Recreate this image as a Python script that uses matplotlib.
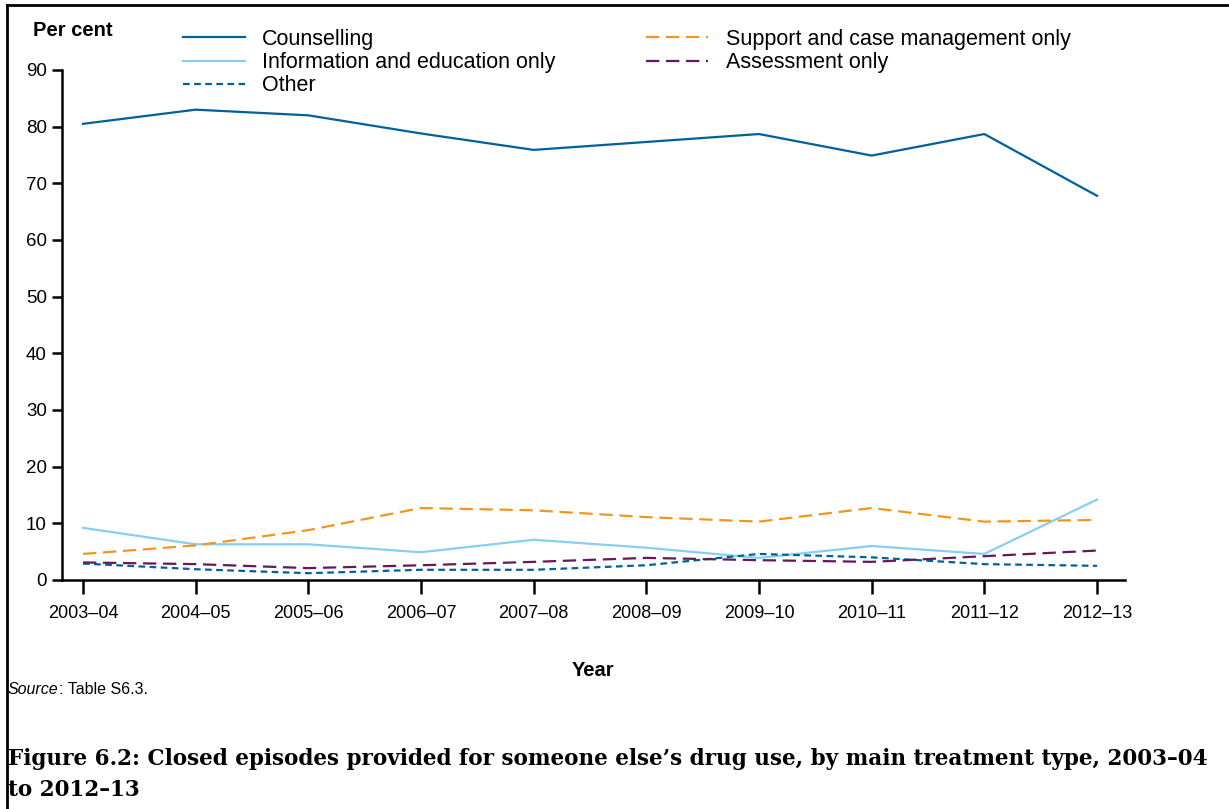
import matplotlib
matplotlib.use('Agg')
import matplotlib.pyplot as plt
from matplotlib.lines import Line2D

plt.rcParams['font.family'] = ['Liberation Sans', 'DejaVu Sans']

# Datos (por ciento)
anios = ['2003–04', '2004–05', '2005–06', '2006–07', '2007–08',
         '2008–09', '2009–10', '2010–11', '2011–12', '2012–13']
counselling = [80.5, 83.0, 82.0, 78.8, 75.9, 77.3, 78.7, 74.9, 78.7, 67.8]
informacion = [9.2, 6.3, 6.3, 4.9, 7.1, 5.7, 3.9, 6.0, 4.6, 14.2]
otro = [2.9, 1.9, 1.2, 1.8, 1.8, 2.6, 4.6, 4.0, 2.8, 2.5]
soporte = [4.6, 6.1, 8.8, 12.7, 12.3, 11.1, 10.3, 12.7, 10.3, 10.6]
evaluacion = [3.1, 2.8, 2.1, 2.6, 3.2, 3.9, 3.5, 3.2, 4.2, 5.2]

W, H = 1229, 809
fig = plt.figure(figsize=(W / 100, H / 100), dpi=100)

# Ejes en coordenadas de pixel
x0, x1, y0, y1 = 62, 1125, 70, 580
ax = fig.add_axes([x0 / W, 1 - y1 / H, (x1 - x0) / W, (y1 - y0) / H])

x = list(range(len(anios)))
ax.plot(x, counselling, color='#00609b', lw=1.6, label='Counselling')
ax.plot(x, informacion, color='#86cff3', lw=1.6, label='Information and education only')
ax.plot(x, otro, color='#00609b', lw=1.6, ls=(0, (3, 2)), label='Other')
ax.plot(x, soporte, color='#f7941d', lw=1.6, ls=(0, (6, 3)), label='Support and case management only')
ax.plot(x, evaluacion, color='#63195a', lw=1.6, ls=(0, (6, 3)), label='Assessment only')

ax.set_ylim(0, 90)
ax.set_xlim(-21 / 112.7, 9 + 28 / 112.7)
ax.set_yticks(range(0, 91, 10))
ax.set_xticks(x)
ax.set_xticklabels(anios)

for lado in ['top', 'right']:
    ax.spines[lado].set_visible(False)
for lado in ['left', 'bottom']:
    ax.spines[lado].set_linewidth(1.8)
ax.tick_params(axis='y', length=7, width=1.8, labelsize=13.5, pad=4)
ax.tick_params(axis='x', length=10, width=1.8, labelsize=13, pad=8)

ax.set_xlabel('Year', fontsize=14.5, fontweight='bold', labelpad=28)

ax.legend(ncol=2, loc='upper left', bbox_to_anchor=(121 / (x1 - x0), 1 + 41 / (y1 - y0)),
          frameon=False, fontsize=15.5, handlelength=2.88, handletextpad=0.8,
          labelspacing=0.1, columnspacing=4.22, borderaxespad=0, borderpad=0)

fig.text(33 / W, 1 - 30 / H, 'Per cent', fontsize=14.5, fontweight='bold', va='center')

# Fuente y titulo de la figura
src = fig.text(8 / W, 1 - 690 / H, 'Source', fontsize=11.5, style='italic', va='center')
ax.annotate(': Table S6.3.', xy=(1, 0.5), xycoords=src, fontsize=11.5, va='center', ha='left')

serif = dict(fontsize=15.5, fontweight='bold', family='DejaVu Serif', va='center')
fig.text(8 / W, 1 - 759 / H,
         'Figure 6.2: Closed episodes provided for someone else’s drug use, by main treatment type, 2003–04',
         **serif)
fig.text(8 / W, 1 - 790 / H, 'to 2012–13', **serif)

# Marco superior e izquierdo
fig.add_artist(Line2D([7 / W, 1], [1 - 5 / H, 1 - 5 / H], color='black', lw=2))
fig.add_artist(Line2D([7 / W, 7 / W], [0, 1 - 5 / H], color='black', lw=2))

fig.savefig('out.png', dpi=100)
